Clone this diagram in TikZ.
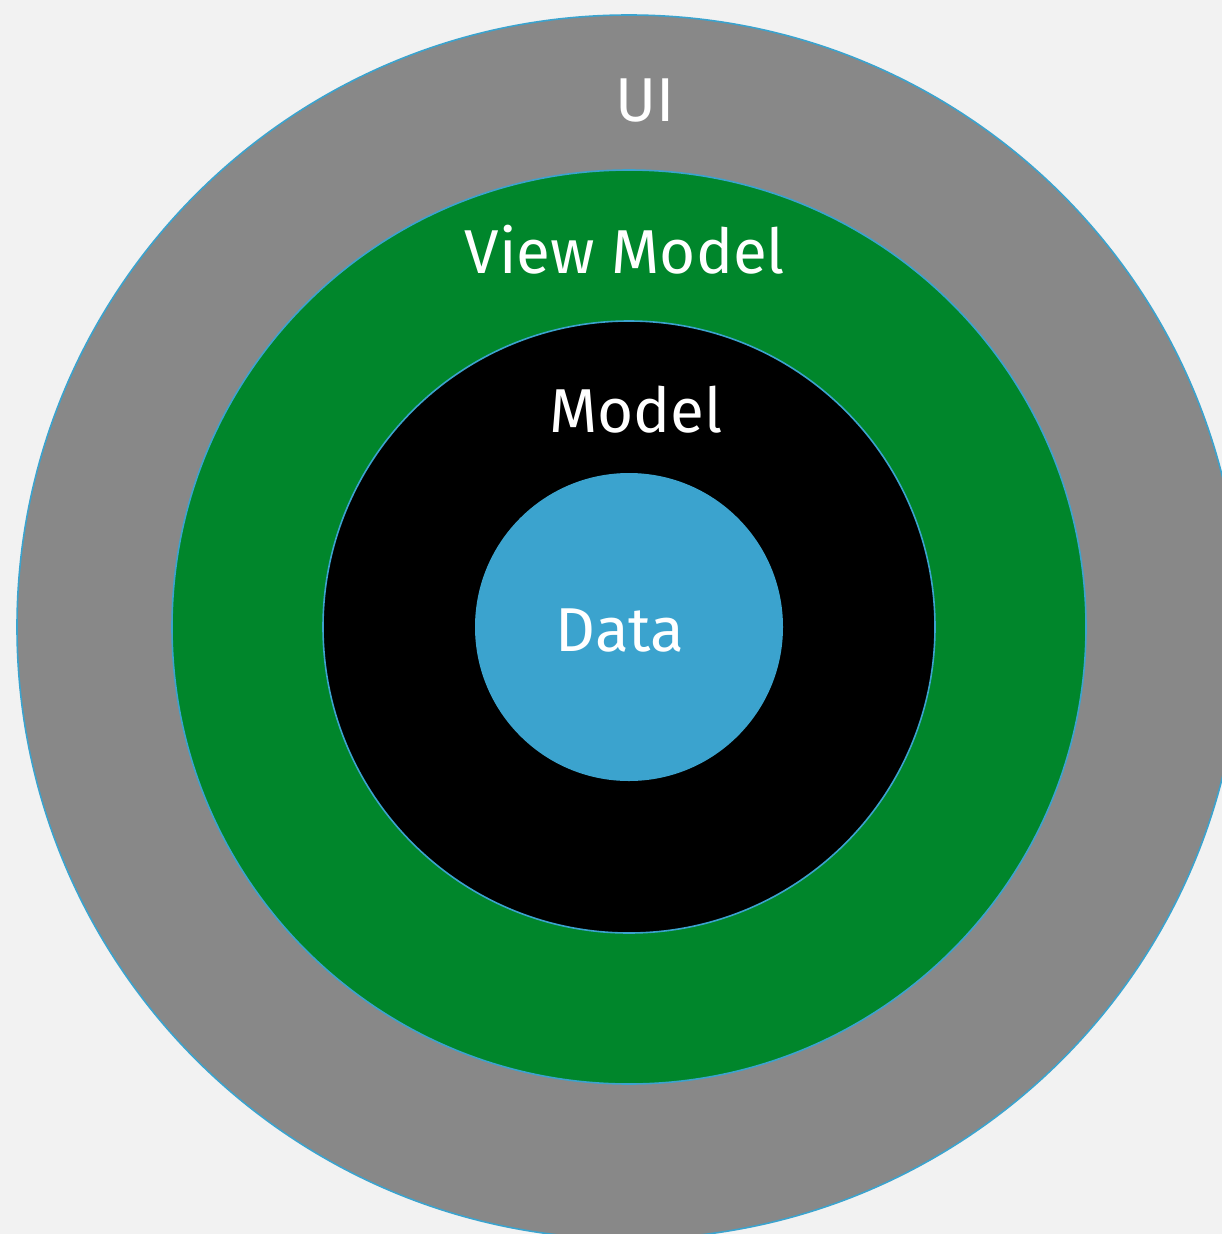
\documentclass[tikz,border=0pt]{standalone}
\usepackage{fontspec}
\setmainfont{Fira Sans}
\definecolor{bgpaper}{HTML}{F2F2F2}
\definecolor{ringgray}{HTML}{888888}
\definecolor{ringgreen}{HTML}{00862B}
\definecolor{coreblue}{HTML}{3BA3CE}
\begin{document}
\begin{tikzpicture}[x=1pt,y=-1pt,
  ring/.style={circle,draw=coreblue,line width=1.6pt,inner sep=0pt,minimum size=#1},
  layerlabel/.style={text=white,font=\fontsize{62}{70}\selectfont,anchor=base,inner sep=0pt}]
  % page with its margins
  \fill[bgpaper] (0,0) rectangle (1222,1234);
  \useasboundingbox (0,0) rectangle (1222,1234);
  \begin{scope}
    \clip (0,0) rectangle (1222,1234);
    % concentric layers, outermost first
    \node[ring=1224pt,fill=ringgray] (ui) at (629,627) {};
    \node[ring=914pt,fill=ringgreen] (vm) at (629,627) {};
    \node[ring=612pt,fill=black] (model) at (629,627) {};
    \node[circle,fill=coreblue,inner sep=0pt,minimum size=308pt] (data) at (629,627) {};
  \end{scope}
  % layer names
  \node[layerlabel] (uiname) at (645,121) {UI};
  \node[layerlabel] (vmname) at (625,273) {View Model};
  \node[layerlabel] (modelname) at (636,432) {Model};
  \node[layerlabel] (dataname) at (620,651) {Data};
\end{tikzpicture}
\end{document}
